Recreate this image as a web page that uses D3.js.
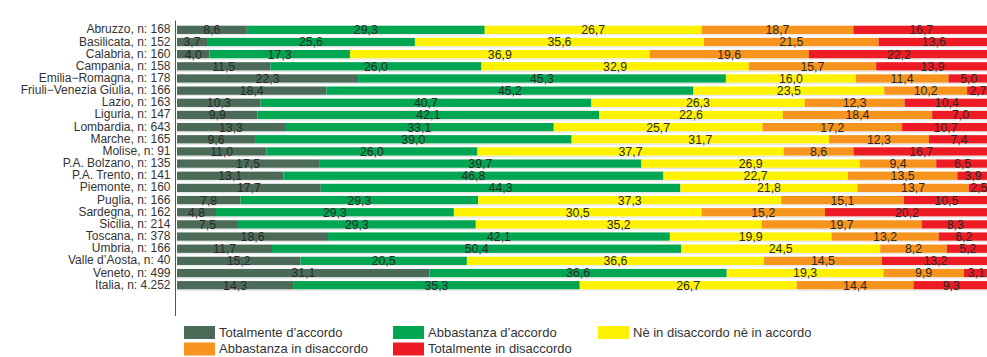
<!DOCTYPE html>
<html>
<head>
<meta charset="utf-8">
<script src="https://cdn.jsdelivr.net/npm/d3@7"></script>
<style>
  html, body { margin: 0; padding: 0; background: #fff; }
  svg { display: block; font-family: "Liberation Sans", Arial, Helvetica, sans-serif; }
</style>
</head>
<body>
<svg id="chart" width="987" height="357"></svg>
<script>
// Regions with sample size, top to bottom
const regions = [
  "Abruzzo, n: 168", "Basilicata, n: 152", "Calabria, n: 160", "Campania, n: 158",
  "Emilia\u2212Romagna, n: 178", "Friuli\u2212Venezia Giulia, n: 166", "Lazio, n: 163",
  "Liguria, n: 147", "Lombardia, n: 643", "Marche, n: 165", "Molise, n: 91",
  "P.A. Bolzano, n: 135", "P.A. Trento, n: 141", "Piemonte, n: 160", "Puglia, n: 166",
  "Sardegna, n: 162", "Sicilia, n: 214", "Toscana, n: 378", "Umbria, n: 166",
  "Valle d\u2019Aosta, n: 40", "Veneto, n: 499", "Italia, n: 4.252"
];

// Answer categories (legend order)
const categories = [
  "Totalmente d\u2019accordo",
  "Abbastanza d\u2019accordo",
  "N\u00e8 in disaccordo n\u00e8 in accordo",
  "Abbastanza in disaccordo",
  "Totalmente in disaccordo"
];

// Percentages per category, one value per region
const totalmenteAccordo   = [8.6, 3.7, 4.0, 11.5, 22.3, 18.4, 10.3, 9.9, 13.3, 9.6, 11.0, 17.5, 13.1, 17.7, 7.8, 4.8, 7.5, 18.6, 11.7, 15.2, 31.1, 14.3];
const abbastanzaAccordo   = [29.3, 25.6, 17.3, 26.0, 45.3, 45.2, 40.7, 42.1, 33.1, 39.0, 26.0, 39.7, 46.8, 44.3, 29.3, 29.3, 29.3, 42.1, 50.4, 20.5, 36.6, 35.3];
const neutrale            = [26.7, 35.6, 36.9, 32.9, 16.0, 23.5, 26.3, 22.6, 25.7, 31.7, 37.7, 26.9, 22.7, 21.8, 37.3, 30.5, 35.2, 19.9, 24.5, 36.6, 19.3, 26.7];
const abbastanzaDisaccordo = [18.7, 21.5, 19.6, 15.7, 11.4, 10.2, 12.3, 18.4, 17.2, 12.3, 8.6, 9.4, 13.5, 13.7, 15.1, 15.2, 19.7, 13.2, 8.2, 14.5, 9.9, 14.4];
const totalmenteDisaccordo = [16.7, 13.6, 22.2, 13.9, 5.0, 2.7, 10.4, 7.0, 10.7, 7.4, 16.7, 6.5, 3.9, 2.5, 10.5, 20.2, 8.3, 6.2, 5.2, 13.2, 3.1, 9.3];

const colors = ["#4b6b58", "#00a651", "#fff200", "#f7941d", "#ed1c24"];

const series = [totalmenteAccordo, abbastanzaAccordo, neutrale, abbastanzaDisaccordo, totalmenteDisaccordo];

// Row records for the stack layout
const rows = regions.map((r, i) => {
  const o = { region: r };
  categories.forEach((c, k) => { o[c] = series[k][i]; });
  return o;
});

const stacked = d3.stack().keys(categories)(rows);

const svg = d3.select("#chart");

const x = d3.scaleLinear().domain([0, 100]).range([177, 989]);
const y = d3.scaleBand()
  .domain(regions)
  .range([23.75, 23.75 + regions.length * 12.16])
  .paddingInner(0.32)
  .paddingOuter(0.16);

const color = d3.scaleOrdinal().domain(categories).range(colors);
const fmt = v => d3.format(".1f")(v).replace(".", ",");

// Faint separator under each bar
svg.append("g")
  .selectAll("line")
  .data(regions)
  .join("line")
  .attr("x1", x(0))
  .attr("x2", x(100))
  .attr("y1", d => y(d) + y.bandwidth() + 0.9)
  .attr("y2", d => y(d) + y.bandwidth() + 0.9)
  .attr("stroke", "#e2e2e2")
  .attr("stroke-width", 1);

// Stacked bar segments
const layer = svg.append("g")
  .selectAll("g")
  .data(stacked)
  .join("g")
  .attr("fill", d => color(d.key));

layer.selectAll("rect")
  .data(d => d)
  .join("rect")
  .attr("x", d => x(d[0]))
  .attr("y", d => y(d.data.region))
  .attr("width", d => x(d[1]) - x(d[0]))
  .attr("height", y.bandwidth());

// Value labels centred in each segment
layer.selectAll("text")
  .data(d => d.map(s => ({ s, key: d.key })))
  .join("text")
  .attr("x", d => (x(d.s[0]) + x(d.s[1])) / 2)
  .attr("y", d => y(d.s.data.region) + y.bandwidth() + 0.3)
  .attr("text-anchor", "middle")
  .attr("fill", "#2b2b2b")
  .attr("font-size", "12.3px")
  .text(d => fmt(d.s[1] - d.s[0]));

// Category axis
const yAxis = d3.axisLeft(y).tickSize(0).tickPadding(5);
const gAxis = svg.append("g")
  .attr("transform", "translate(175.5,0)")
  .call(yAxis);
gAxis.select(".domain").remove();
gAxis.selectAll("text")
  .attr("font-size", "12px")
  .attr("fill", "#333")
  .attr("dy", null)
  .attr("y", y.bandwidth() / 2 - 0.6)
  .attr("font-family", "Liberation Sans, Arial, sans-serif");

svg.append("line")
  .attr("x1", 175.5).attr("x2", 175.5)
  .attr("y1", 20.5).attr("y2", 316)
  .attr("stroke", "#555")
  .attr("stroke-width", 1);

// Legend
const legendPos = [
  [184, 326], [393, 326], [598, 326],
  [184, 342.5], [393, 342.5]
];
const legend = svg.append("g")
  .selectAll("g")
  .data(categories)
  .join("g")
  .attr("transform", (d, i) => `translate(${legendPos[i][0]},${legendPos[i][1]})`);

legend.append("rect")
  .attr("width", 31)
  .attr("height", 13)
  .attr("fill", d => color(d));

legend.append("text")
  .attr("x", 35)
  .attr("y", 10.5)
  .attr("font-size", "13px")
  .attr("fill", "#333")
  .text(d => d);
</script>
</body>
</html>
